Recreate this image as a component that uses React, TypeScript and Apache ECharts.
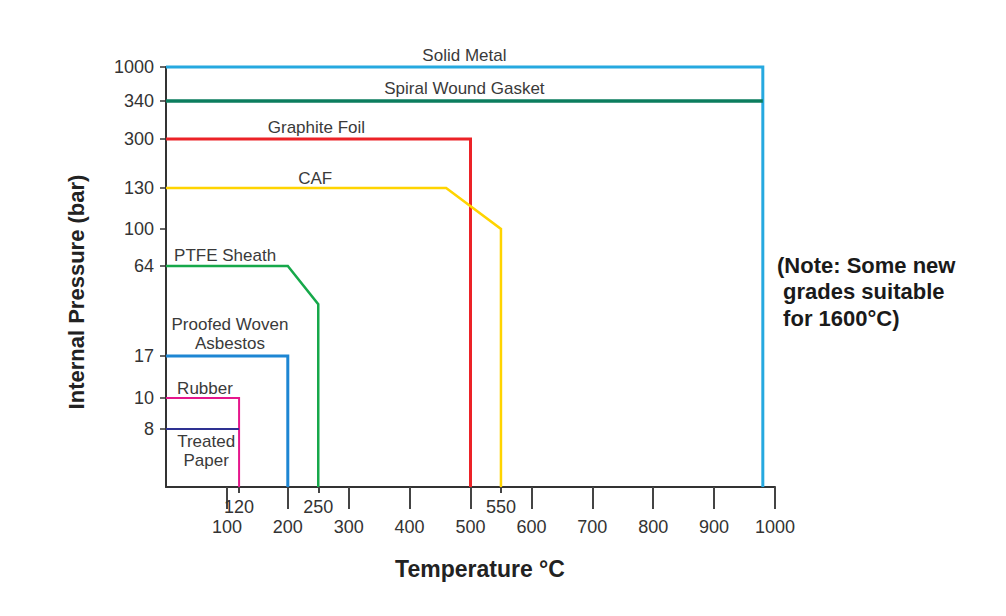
import React, { useEffect, useRef } from "react";
import * as echarts from "echarts";

// ---- data ----
const pressureTicks = [8, 10, 17, 64, 100, 130, 300, 340, 1000];
const tempMajorTicks = [100, 200, 300, 400, 500, 600, 700, 800, 900, 1000];
const tempMarkedTicks = [120, 250, 550];

// schematic (non-linear) pressure scale: pressure -> axis units
const scalePressures = [0, 8, 10, 17, 64, 100, 130, 300, 340, 1000];
const scaleUnits = [0, 58, 89, 131, 221, 258, 299, 348, 386, 420];

const solidMetalT = [0, 980, 980];
const solidMetalP = [1000, 1000, 0];
const spiralT = [0, 980];
const spiralP = [340, 340];
const graphiteT = [0, 500, 500];
const graphiteP = [300, 300, 0];
const cafT = [0, 460, 550, 550];
const cafP = [130, 130, 100, 0];
const ptfeT = [0, 200, 250, 250];
const ptfeP = [64, 64, 44, 0];
const asbestosT = [0, 200, 200];
const asbestosP = [17, 17, 0];
const rubberT = [0, 120, 120];
const rubberP = [10, 10, 0];
const paperT = [0, 120];
const paperP = [8, 8];

const FONT = '"Liberation Sans", Arial, Helvetica, sans-serif';

function fy(p: number): number {
  for (let i = 1; i < scalePressures.length; i++) {
    if (p <= scalePressures[i]) {
      const p0 = scalePressures[i - 1];
      const p1 = scalePressures[i];
      const u0 = scaleUnits[i - 1];
      const u1 = scaleUnits[i];
      return u0 + ((p - p0) / (p1 - p0)) * (u1 - u0);
    }
  }
  return scaleUnits[scaleUnits.length - 1];
}

const seriesDefs = [
  { name: "Solid Metal", t: solidMetalT, p: solidMetalP, color: "#26a9e0", width: 3 },
  { name: "Spiral Wound Gasket", t: spiralT, p: spiralP, color: "#0b7d5e", width: 3.5 },
  { name: "Graphite Foil", t: graphiteT, p: graphiteP, color: "#ec2227", width: 3 },
  { name: "CAF", t: cafT, p: cafP, color: "#ffd400", width: 2.5 },
  { name: "PTFE Sheath", t: ptfeT, p: ptfeP, color: "#16a84a", width: 2.5 },
  { name: "Proofed Woven Asbestos", t: asbestosT, p: asbestosP, color: "#1d86d3", width: 3 },
  { name: "Rubber", t: rubberT, p: rubberP, color: "#e5168c", width: 2 },
  { name: "Treated Paper", t: paperT, p: paperP, color: "#2e3192", width: 2 },
];

// label placement: anchored on (temperature, pressure) with pixel offset
const labelPlacement = [
  { text: "Solid Metal", t: 490, p: 1000, dy: -12 },
  { text: "Spiral Wound Gasket", t: 490, p: 340, dy: -13 },
  { text: "Graphite Foil", t: 247, p: 300, dy: -12 },
  { text: "CAF", t: 245, p: 130, dy: -10 },
  { text: "PTFE Sheath", t: 97, p: 64, dy: -11 },
  { text: "Proofed Woven\nAsbestos", t: 105, p: 17, dy: -22 },
  { text: "Rubber", t: 64, p: 10, dy: -10 },
  { text: "Treated\nPaper", t: 66, p: 8, dy: 22 },
];

export default function App() {
  const ref = useRef<HTMLDivElement>(null);

  useEffect(() => {
    if (!ref.current) return;
    const chart = echarts.init(ref.current, null, { renderer: "svg" });
    const yTickUnits = pressureTicks.map(fy);

    chart.setOption({
      animation: false,
      backgroundColor: "#ffffff",
      grid: { left: 166, right: 231, top: 67, bottom: 129, containLabel: false },
      xAxis: [
        {
          type: "value",
          min: 0,
          max: 1000,
          position: "bottom",
          axisLine: { show: true, lineStyle: { color: "#333", width: 2 } },
          axisTick: {
            show: true,
            customValues: tempMajorTicks,
            length: 22,
            lineStyle: { color: "#444", width: 2 },
          },
          axisLabel: {
            customValues: tempMajorTicks,
            margin: 31,
            fontSize: 18,
            color: "#333",
            fontFamily: FONT,
            formatter: (v: number) => String(v),
          },
          splitLine: { show: false },
        },
        {
          type: "value",
          min: 0,
          max: 1000,
          position: "bottom",
          axisLine: { show: false },
          axisTick: {
            show: true,
            customValues: tempMarkedTicks,
            length: 6,
            lineStyle: { color: "#444", width: 2 },
          },
          axisLabel: {
            customValues: tempMarkedTicks,
            margin: 11,
            fontSize: 18,
            color: "#333",
            fontFamily: FONT,
            formatter: (v: number) => String(v),
          },
          splitLine: { show: false },
        },
      ],
      yAxis: {
        type: "value",
        min: 0,
        max: 420,
        axisLine: { show: true, lineStyle: { color: "#333", width: 2 } },
        axisTick: {
          show: true,
          customValues: yTickUnits,
          length: 6,
          lineStyle: { color: "#333", width: 1.5 },
        },
        axisLabel: {
          customValues: yTickUnits,
          margin: 12,
          fontSize: 18,
          color: "#333",
          fontFamily: FONT,
          formatter: (v: number) => {
            const i = yTickUnits.findIndex((u) => Math.abs(u - v) < 0.01);
            return i >= 0 ? String(pressureTicks[i]) : "";
          },
        },
        splitLine: { show: false },
      },
      series: seriesDefs.map((s) => ({
        name: s.name,
        type: "line",
        xAxisIndex: 0,
        yAxisIndex: 0,
        data: s.t.map((t, i) => [t, fy(s.p[i])]),
        showSymbol: false,
        symbol: "none",
        clip: false,
        lineStyle: { color: s.color, width: s.width, join: "miter" },
        z: 3,
      })),
    });

    const labelGraphics = labelPlacement.map((l) => {
      const pt = chart.convertToPixel({ gridIndex: 0 }, [l.t, fy(l.p)]) as number[];
      return {
        type: "text",
        x: pt[0],
        y: pt[1] + l.dy,
        z: 10,
        style: {
          text: l.text,
          fill: "#3a3a3a",
          fontSize: 17,
          fontFamily: FONT,
          textAlign: "center",
          textVerticalAlign: "middle",
          lineHeight: 19,
        },
      };
    });

    chart.setOption({
      graphic: [
        ...labelGraphics,
        {
          type: "text",
          x: 76,
          y: 292,
          rotation: Math.PI / 2,
          style: {
            text: "Internal Pressure (bar)",
            fill: "#222",
            fontSize: 22,
            fontWeight: "bold",
            fontFamily: FONT,
            textAlign: "center",
            textVerticalAlign: "middle",
          },
        },
        {
          type: "text",
          x: 480,
          y: 569,
          style: {
            text: "Temperature °C",
            fill: "#222",
            fontSize: 23,
            fontWeight: "bold",
            fontFamily: FONT,
            textAlign: "center",
            textVerticalAlign: "middle",
          },
        },
        {
          type: "text",
          x: 777,
          y: 252,
          style: {
            text: "(Note: Some new\n grades suitable\n for 1600°C)",
            fill: "#1a1a1a",
            fontSize: 22,
            fontWeight: "bold",
            fontFamily: FONT,
            textAlign: "left",
            textVerticalAlign: "top",
            lineHeight: 26.5,
          },
        },
      ],
    });

    return () => chart.dispose();
  }, []);

  return (
    <div
      ref={ref}
      style={{ position: "fixed", left: 0, top: 0, width: 1006, height: 616, background: "#fff" }}
    />
  );
}
